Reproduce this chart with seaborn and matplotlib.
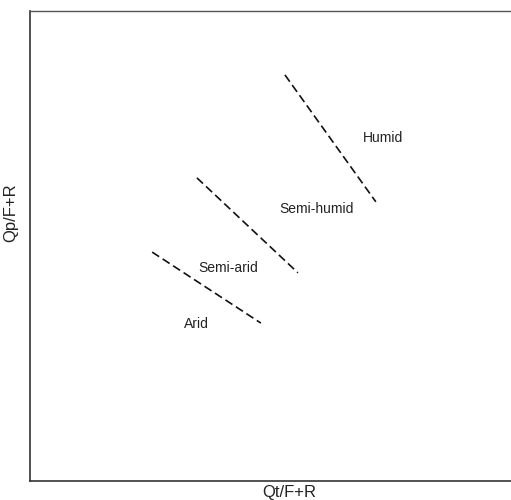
import seaborn as sns
import matplotlib.pyplot as plt
import pandas as pd

# zone boundary segments (start / end), axis units 0..1
zones = ["Arid/Semi-arid", "Semi-arid/Semi-humid", "Semi-humid/Humid"]
x_start = [0.254, 0.347, 0.530]
y_start = [0.487, 0.645, 0.864]
x_end = [0.480, 0.557, 0.719]
y_end = [0.336, 0.443, 0.594]

# climate zone labels
labels = ["Arid", "Semi-arid", "Semi-humid", "Humid"]
label_x = [0.345, 0.412, 0.595, 0.734]
label_y = [0.334, 0.453, 0.579, 0.730]

rows = []
for z, x0, y0, x1, y1 in zip(zones, x_start, y_start, x_end, y_end):
    rows.append({"zone": z, "x": x0, "y": y0})
    rows.append({"zone": z, "x": x1, "y": y1})
df = pd.DataFrame(rows)

sns.set_style("white")
plt.rcParams["font.family"] = ["Liberation Sans", "DejaVu Sans"]

fig = plt.figure(figsize=(5.11, 5.00), dpi=100)
ax = fig.add_axes([30 / 511, 19 / 500, 481 / 511, 470 / 500])

for z in zones:
    sns.lineplot(data=df[df["zone"] == z], x="x", y="y", ax=ax, color="#111111",
                 linewidth=1.2, dashes=False, sort=False, estimator=None)
for line in ax.lines:
    line.set_dashes((5, 2.5))

for t, x, y in zip(labels, label_x, label_y):
    ax.text(x, y, t, ha="center", va="center", fontsize=10, color="#222222")

ax.set_xlim(0, 1)
ax.set_ylim(0, 1)
ax.set_xticks([])
ax.set_yticks([])
ax.set_xlabel("Qt/F+R", fontsize=12, color="#222222")
ax.set_ylabel("Qp/F+R", fontsize=12, color="#222222")
ax.xaxis.set_label_coords(0.54, -0.008)
ax.yaxis.set_label_coords(-0.025, 0.57)
for s in ax.spines.values():
    s.set_color("#333333")
    s.set_linewidth(1.2)
ax.spines["right"].set_visible(False)
ax.spines["top"].set_color("#555555")
ax.spines["top"].set_linewidth(1.0)

fig.savefig("out.png", dpi=100)
